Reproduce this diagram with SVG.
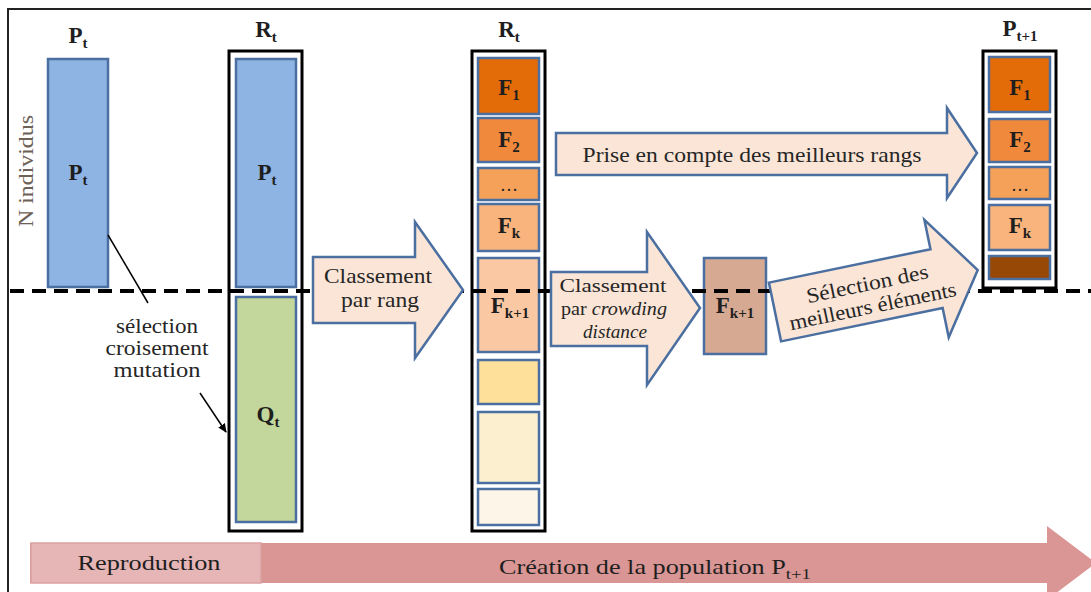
<svg xmlns="http://www.w3.org/2000/svg" width="1091" height="592" viewBox="0 0 1091 592">
<style>
text{font-family:'Liberation Serif','DejaVu Serif',serif;fill:#1e1e1e}
.lbl{font-size:23px;font-weight:bold;text-anchor:middle}
.sub{font-size:15px}
.txt{font-size:21px;text-anchor:middle;fill:#262626}
.sm{font-size:19px}
.blue{stroke:#4a6fa0;stroke-width:2.5}
.frame{fill:none;stroke:#000;stroke-width:3}
.arr{fill:#fbe5d6;stroke:#4a6fa0;stroke-width:2.5;stroke-linejoin:miter}
</style>
<defs>
<marker id="ah" markerWidth="10" markerHeight="10" refX="8" refY="5" orient="auto" markerUnits="userSpaceOnUse">
<path d="M0,1 L9,5 L0,9 Z" fill="#000"/>
</marker>
</defs>
<rect width="1091" height="592" fill="#fff"/>
<g id="border"><path d="M8,592 L8,9 L1091,9" fill="none" stroke="#222" stroke-width="2"/></g>

<g id="n-individus"><text transform="translate(33,171) rotate(-90)" font-size="20" text-anchor="middle" style="fill:#6d6157" textLength="112" lengthAdjust="spacingAndGlyphs">N individus</text></g>

<g id="Pt">
<text class="lbl" x="78" y="43">P<tspan class="sub" dy="5">t</tspan></text>
<rect x="48" y="59" width="60" height="228" fill="#8eb4e3" class="blue"/>
<text class="lbl" x="78" y="180">P<tspan class="sub" dy="5">t</tspan></text>
</g>

<g id="Rt1">
<text class="lbl" x="266" y="37">R<tspan class="sub" dy="5">t</tspan></text>
<rect x="229" y="51" width="73" height="480" class="frame"/>
<rect x="236" y="59" width="60" height="228" fill="#8eb4e3" class="blue"/>
<rect x="236" y="297" width="60" height="225" fill="#c3d69b" class="blue"/>
<text class="lbl" x="267" y="180">P<tspan class="sub" dy="5">t</tspan></text>
<text class="lbl" x="268" y="422">Q<tspan class="sub" dy="5">t</tspan></text>
</g>

<g id="Rt2">
<text class="lbl" x="509" y="37">R<tspan class="sub" dy="5">t</tspan></text>
<rect x="472" y="51" width="73" height="480" class="frame"/>
<rect x="478" y="58" width="61" height="56" fill="#e36c09" class="blue"/>
<rect x="478" y="118" width="61" height="44" fill="#f0893b" class="blue"/>
<rect x="478" y="168" width="61" height="32" fill="#f5a15a" class="blue"/>
<rect x="478" y="204" width="61" height="47" fill="#f8b47c" class="blue"/>
<rect x="478" y="258" width="61" height="94" fill="#fac8a2" class="blue"/>
<rect x="478" y="360" width="61" height="44" fill="#ffe09a" class="blue"/>
<rect x="478" y="412" width="61" height="71" fill="#fbefd0" class="blue"/>
<rect x="478" y="489" width="61" height="36" fill="#fdf5e8" class="blue"/>
<text class="lbl" x="509" y="95">F<tspan class="sub" dy="5">1</tspan></text>
<text class="lbl" x="509" y="147">F<tspan class="sub" dy="5">2</tspan></text>
<text class="lbl" x="509" y="191" style="font-weight:normal;font-size:18px">…</text>
<text class="lbl" x="509" y="233">F<tspan class="sub" dy="5">k</tspan></text>
<text class="lbl" x="510" y="313">F<tspan class="sub" dy="5">k+1</tspan></text>
</g>

<g id="Fk1">
<rect x="704" y="258" width="62" height="96" fill="#d6a993" class="blue"/>
</g>

<g id="Pt1">
<text class="lbl" x="1020" y="36">P<tspan class="sub" dy="5">t+1</tspan></text>
<rect x="983" y="51" width="73" height="237" class="frame"/>
<rect x="989" y="57" width="61" height="55" fill="#e36c09" class="blue"/>
<rect x="989" y="119" width="61" height="43" fill="#f0893b" class="blue"/>
<rect x="989" y="167" width="61" height="32" fill="#f5a15a" class="blue"/>
<rect x="989" y="205" width="61" height="45" fill="#f8b47c" class="blue"/>
<rect x="989" y="256" width="61" height="23" fill="#984806" class="blue"/>
<text class="lbl" x="1020" y="95">F<tspan class="sub" dy="5">1</tspan></text>
<text class="lbl" x="1020" y="147">F<tspan class="sub" dy="5">2</tspan></text>
<text class="lbl" x="1020" y="191" style="font-weight:normal;font-size:18px">…</text>
<text class="lbl" x="1020" y="233">F<tspan class="sub" dy="5">k</tspan></text>
</g>

<g id="dashline"><line x1="10" y1="291" x2="1091" y2="291" stroke="#000" stroke-width="4" stroke-dasharray="14,8"/></g>

<g id="Fk1-label"><text class="lbl" x="735" y="313">F<tspan class="sub" dy="5">k+1</tspan></text></g>

<g id="connectors">
<line x1="108" y1="235" x2="148" y2="303" stroke="#000" stroke-width="1.5"/>
<line x1="200" y1="393" x2="226" y2="432" stroke="#000" stroke-width="1.5" marker-end="url(#ah)"/>
<g id="arrow-rang">
<path class="arr" d="M313,257 L415,257 L415,222 L463,290 L415,358 L415,323 L313,323 Z"/>
<text class="txt" x="378" y="283" textLength="108" lengthAdjust="spacingAndGlyphs">Classement</text>
<text class="txt" x="380" y="307" textLength="78" lengthAdjust="spacingAndGlyphs">par rang</text>
</g>
<g id="arrow-crowding">
<path class="arr" d="M551,272 L647,272 L647,232 L700,308 L647,385 L647,346 L551,346 Z"/>
<text class="txt sm" x="613" y="292" textLength="107" lengthAdjust="spacingAndGlyphs">Classement</text>
<text class="txt sm" x="614" y="315" textLength="106" lengthAdjust="spacingAndGlyphs">par <tspan font-style="italic">crowding</tspan></text>
<text class="txt sm" x="615" y="338" font-style="italic" textLength="64" lengthAdjust="spacingAndGlyphs">distance</text>
</g>
<g id="arrow-prise">
<path class="arr" d="M556,133 L947,133 L947,108 L977,153 L947,198 L947,175 L556,175 Z"/>
<text class="txt" x="752" y="162" textLength="339" lengthAdjust="spacingAndGlyphs">Prise en compte des meilleurs rangs</text>
</g>
<g id="arrow-selection" transform="translate(775,312) rotate(-11.7)">
<path class="arr" d="M0,-30 L165,-30 L165,-60 L207,0 L165,60 L165,30 L0,30 Z"/>
<text class="txt" x="96" y="-2" textLength="124" lengthAdjust="spacingAndGlyphs">Sélection des</text>
<text class="txt" x="97" y="21" textLength="170" lengthAdjust="spacingAndGlyphs">meilleurs éléments</text>
</g>
</g>

<g id="label-sel">
<text class="txt" x="157" y="333" textLength="82" lengthAdjust="spacingAndGlyphs">sélection</text>
<text class="txt" x="157" y="355" textLength="103" lengthAdjust="spacingAndGlyphs">croisement</text>
<text class="txt" x="157" y="377" textLength="87" lengthAdjust="spacingAndGlyphs">mutation</text>
</g>

<g id="bottom-arrow">
<path d="M30,543 L1047,543 L1047,526 L1096,563 L1047,600 L1047,583 L30,583 Z" fill="#d99694"/>
<rect x="31" y="543" width="230" height="40" fill="#e6b5b6" stroke="#dca1a1" stroke-width="1.5"/>
<text class="txt" x="149" y="570" textLength="143" lengthAdjust="spacingAndGlyphs" style="fill:#1e1e1e">Reproduction</text>
<text class="txt" x="655" y="574" textLength="312" lengthAdjust="spacingAndGlyphs" style="fill:#1e1e1e">Création de la population P<tspan class="sub" dy="5">t+1</tspan></text>
</g>
</svg>
